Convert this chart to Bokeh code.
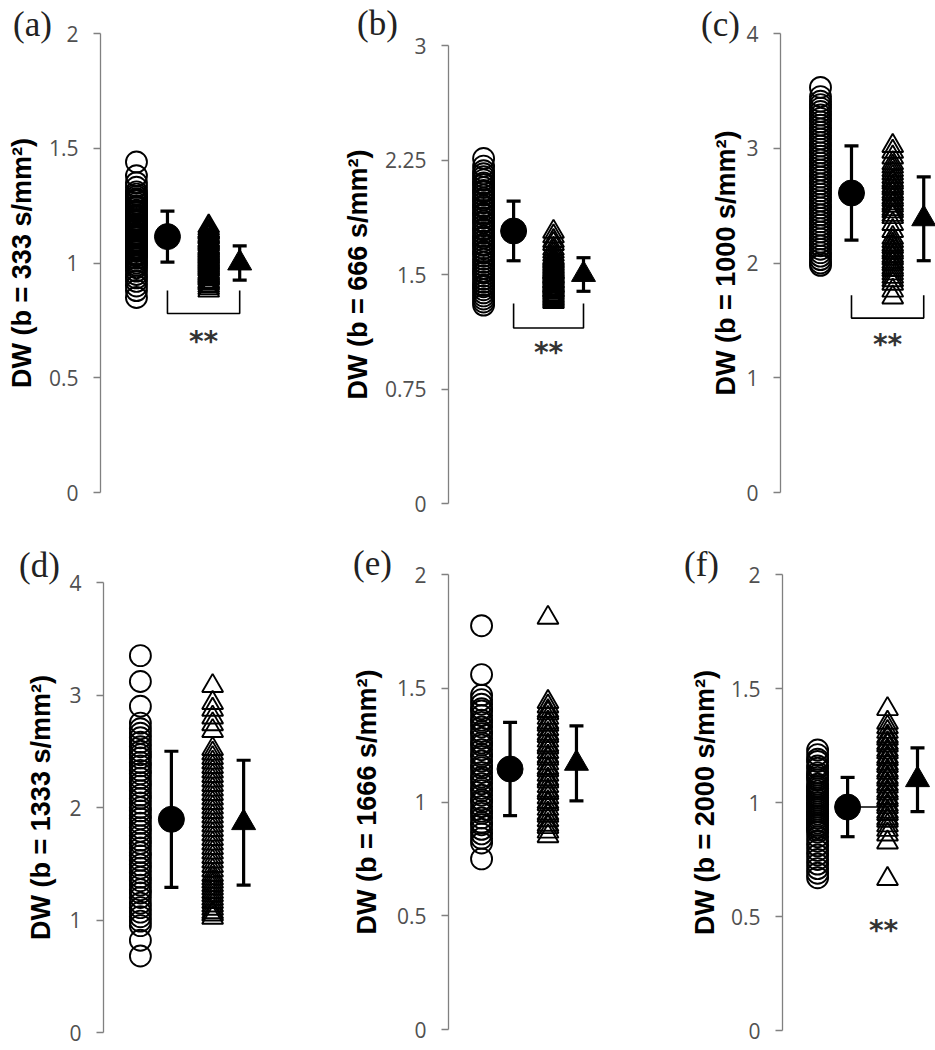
from bokeh.plotting import figure
from bokeh.models import Range1d, FixedTicker, ColumnDataSource, Whisker, TeeHead
from bokeh.layouts import column, row
from bokeh.embed import file_html
from bokeh.resources import INLINE
from bokeh.core.properties import value

# ---------------- data ----------------
panel_letters = ["(a)", "(b)", "(c)", "(d)", "(e)", "(f)"]
b_values = ["333", "666", "1000", "1333", "1666", "2000"]
y_labels = ["DW (b = %s s/mm\u00b2)" % b for b in b_values]

y_max = [2, 3, 4, 4, 2, 2]
y_ticks = [
    [0, 0.5, 1, 1.5, 2],
    [0, 0.75, 1.5, 2.25, 3],
    [0, 1, 2, 3, 4],
    [0, 1, 2, 3, 4],
    [0, 0.5, 1, 1.5, 2],
    [0, 0.5, 1, 1.5, 2],
]
y_tick_labels = [
    ["0", "0.5", "1", "1.5", "2"],
    ["0", "0.75", "1.5", "2.25", "3"],
    ["0", "1", "2", "3", "4"],
    ["0", "1", "2", "3", "4"],
    ["0", "0.5", "1", "1.5", "2"],
    ["0", "0.5", "1", "1.5", "2"],
]

# individual values: open circles (first group) and open triangles (second group)
ctrl_a = [1.44, 1.38, 1.35, 1.33, 1.31, 1.30, 1.29, 1.28, 1.275, 1.27, 1.26, 1.25, 1.245, 1.24,
          1.23, 1.225, 1.22, 1.21, 1.205, 1.20, 1.19, 1.185, 1.18, 1.17, 1.165, 1.16, 1.155,
          1.15, 1.145, 1.14, 1.13, 1.125, 1.12, 1.115, 1.11, 1.10, 1.095, 1.09, 1.085, 1.08,
          1.07, 1.065, 1.06, 1.055, 1.05, 1.04, 1.035, 1.03, 1.02, 1.01, 1.00, 0.99, 0.98,
          0.965, 0.95, 0.935, 0.92, 0.90, 0.88, 0.85]
pat_a = [1.16, 1.15, 1.14, 1.135, 1.13, 1.12, 1.115, 1.11, 1.10, 1.095, 1.09, 1.085, 1.08,
         1.07, 1.065, 1.06, 1.055, 1.05, 1.045, 1.04, 1.035, 1.03, 1.025, 1.02, 1.015, 1.01,
         1.005, 1.00, 0.995, 0.99, 0.985, 0.98, 0.975, 0.97, 0.96, 0.955, 0.95, 0.945, 0.94,
         0.935, 0.93, 0.92, 0.915, 0.91, 0.90, 0.89, 0.88]
ctrl_b = [2.26, 2.21, 2.18, 2.16, 2.14, 2.12, 2.10, 2.09, 2.07, 2.05, 2.04, 2.02, 2.00, 1.99,
          1.97, 1.95, 1.94, 1.92, 1.90, 1.89, 1.87, 1.85, 1.84, 1.82, 1.80, 1.79, 1.77, 1.75,
          1.74, 1.72, 1.70, 1.69, 1.67, 1.65, 1.64, 1.62, 1.60, 1.58, 1.56, 1.54, 1.52, 1.51,
          1.49, 1.47, 1.45, 1.43, 1.42, 1.40, 1.38, 1.36, 1.34, 1.32, 1.30]
pat_b = [1.78, 1.75, 1.72, 1.70, 1.67, 1.65, 1.63, 1.61, 1.60, 1.59, 1.58, 1.57, 1.56, 1.55,
         1.54, 1.53, 1.52, 1.515, 1.51, 1.50, 1.49, 1.485, 1.48, 1.47, 1.46, 1.455, 1.45, 1.44,
         1.43, 1.425, 1.42, 1.41, 1.40, 1.395, 1.39, 1.38, 1.37, 1.36, 1.35, 1.34, 1.33, 1.32]
ctrl_c = [3.53, 3.45, 3.41, 3.38, 3.35, 3.32, 3.29, 3.26, 3.23, 3.20, 3.17, 3.14, 3.11, 3.08,
          3.05, 3.02, 2.99, 2.96, 2.93, 2.90, 2.87, 2.84, 2.81, 2.78, 2.75, 2.72, 2.69, 2.66,
          2.63, 2.60, 2.57, 2.54, 2.51, 2.48, 2.45, 2.42, 2.39, 2.36, 2.33, 2.30, 2.27, 2.24,
          2.21, 2.18, 2.15, 2.12, 2.09, 2.06, 2.03, 2.00, 1.98]
pat_c = [3.02, 2.97, 2.92, 2.87, 2.84, 2.81, 2.78, 2.75, 2.72, 2.70, 2.67, 2.65, 2.62, 2.60,
         2.57, 2.55, 2.52, 2.50, 2.47, 2.45, 2.42, 2.40, 2.34, 2.28, 2.22, 2.19, 2.16, 2.14,
         2.11, 2.09, 2.06, 2.04, 2.01, 1.99, 1.96, 1.94, 1.91, 1.88, 1.85, 1.82, 1.76, 1.70]
ctrl_d = [3.35, 3.12, 2.90, 2.75, 2.70, 2.66, 2.62, 2.58, 2.54, 2.50, 2.47, 2.44, 2.40, 2.37,
          2.33, 2.30, 2.26, 2.22, 2.19, 2.15, 2.11, 2.08, 2.04, 2.00, 1.97, 1.93, 1.90, 1.86,
          1.82, 1.79, 1.75, 1.71, 1.68, 1.64, 1.60, 1.57, 1.53, 1.49, 1.46, 1.42, 1.38, 1.35,
          1.31, 1.27, 1.24, 1.20, 1.15, 1.11, 1.07, 1.03, 0.99, 0.95, 0.82, 0.68]
pat_d = [3.08, 2.93, 2.87, 2.80, 2.74, 2.68, 2.52, 2.48, 2.44, 2.40, 2.36, 2.32, 2.28, 2.24,
         2.20, 2.16, 2.12, 2.08, 2.04, 2.00, 1.96, 1.92, 1.88, 1.84, 1.80, 1.76, 1.72, 1.68,
         1.64, 1.60, 1.56, 1.52, 1.48, 1.44, 1.40, 1.37, 1.34, 1.31, 1.28, 1.25, 1.22, 1.19,
         1.16, 1.13, 1.10, 1.07, 1.05, 1.02]
ctrl_e = [1.775, 1.56, 1.47, 1.45, 1.43, 1.41, 1.40, 1.38, 1.36, 1.35, 1.33, 1.31, 1.30, 1.28,
          1.26, 1.25, 1.23, 1.21, 1.20, 1.18, 1.16, 1.15, 1.13, 1.11, 1.10, 1.08, 1.06, 1.05,
          1.03, 1.01, 1.00, 0.98, 0.96, 0.95, 0.93, 0.91, 0.90, 0.88, 0.86, 0.84, 0.82, 0.75]
pat_e = [1.81, 1.44, 1.42, 1.40, 1.39, 1.37, 1.35, 1.34, 1.32, 1.30, 1.29, 1.27, 1.25, 1.24,
         1.22, 1.20, 1.19, 1.17, 1.15, 1.14, 1.12, 1.10, 1.09, 1.07, 1.05, 1.04, 1.02, 1.00,
         0.99, 0.97, 0.95, 0.94, 0.92, 0.90, 0.89, 0.87, 0.85]
ctrl_f = [1.23, 1.21, 1.19, 1.18, 1.16, 1.15, 1.13, 1.12, 1.11, 1.10, 1.08, 1.07, 1.06, 1.05,
          1.04, 1.03, 1.02, 1.01, 1.00, 0.99, 0.98, 0.97, 0.96, 0.95, 0.94, 0.93, 0.92, 0.91,
          0.90, 0.89, 0.88, 0.87, 0.85, 0.83, 0.81, 0.79, 0.77, 0.75, 0.73, 0.71, 0.69, 0.67]
pat_f = [1.41, 1.35, 1.33, 1.31, 1.29, 1.28, 1.26, 1.25, 1.23, 1.22, 1.20, 1.19, 1.17, 1.16,
         1.14, 1.13, 1.11, 1.10, 1.08, 1.07, 1.05, 1.04, 1.02, 1.01, 0.99, 0.98, 0.96, 0.95,
         0.93, 0.92, 0.90, 0.88, 0.86, 0.825, 0.665]

ctrl_values = [ctrl_a, ctrl_b, ctrl_c, ctrl_d, ctrl_e, ctrl_f]
pat_values = [pat_a, pat_b, pat_c, pat_d, pat_e, pat_f]

# group means and SDs (filled markers with error bars)
ctrl_mean = [1.115, 1.785, 2.61, 1.895, 1.145, 0.98]
ctrl_sd = [0.111, 0.195, 0.41, 0.605, 0.205, 0.13]
pat_mean = [1.00, 1.50, 2.385, 1.865, 1.17, 1.10]
pat_sd = [0.075, 0.11, 0.365, 0.555, 0.165, 0.14]

# significance marks
bracket_top = [0.88, 1.31, 1.72, None, None, None]
bracket_bottom = [0.78, 1.15, 1.52, None, None, None]
star_y = [0.66, 0.99, 1.29, None, None, 0.44]
star_text = ["**", "**", "**", None, None, "**"]

# ---------------- layout (page pixels; the page has no body margin) ----------------
group_x = [1, 2, 3.33, 4.33]
ROW_Y = [0, 543]
ROW_H = [543, 505]
layout = [
    dict(row=0, fig_x=0, fig_w=318, axis_x=100, top=33, bottom=492, unit=31, x0=-0.16, lab=(32, 24), std=9),
    dict(row=0, fig_x=318, fig_w=310, axis_x=448, top=45, bottom=503, unit=30, x0=-0.17, lab=(377, 23), std=9),
    dict(row=0, fig_x=628, fig_w=307, axis_x=780, top=33, bottom=492, unit=31, x0=-0.29, lab=(720, 24), std=2),
    dict(row=1, fig_x=0, fig_w=318, axis_x=103, top=582, bottom=1032, unit=31, x0=-0.19, lab=(39, 565), std=10),
    dict(row=1, fig_x=318, fig_w=310, axis_x=448, top=574, bottom=1029, unit=28.5, x0=-0.16, lab=(372, 563), std=12),
    dict(row=1, fig_x=628, fig_w=307, axis_x=782, top=574, bottom=1030, unit=30, x0=-0.17, lab=(701, 564), std=8),
]

AXIS_GRAY = "#808080"
TICK_TEXT = "#505050"


def make_panel(i):
    L = layout[i]
    ry, rh = ROW_Y[L["row"]], ROW_H[L["row"]]
    ym = y_max[i]
    H = L["bottom"] - L["top"]

    def dx(px):
        return L["x0"] + (px - L["axis_x"]) / L["unit"]

    def dy(py):
        return (L["bottom"] - py) / H * ym

    p = figure(width=L["fig_w"], height=rh,
               x_range=Range1d(dx(L["fig_x"]), dx(L["fig_x"] + L["fig_w"])),
               y_range=Range1d(dy(ry + rh), dy(ry)),
               x_axis_location=None, toolbar_location=None, output_backend="svg",
               min_border_left=0, min_border_right=0, min_border_top=0, min_border_bottom=0)
    p.grid.visible = False
    p.outline_line_color = None
    p.background_fill_color = "white"
    p.border_fill_color = "white"

    ax = p.yaxis[0]
    ax.fixed_location = L["x0"]
    ax.bounds = (0, ym)
    ax.ticker = FixedTicker(ticks=y_ticks[i])
    ax.major_label_overrides = {t: s for t, s in zip(y_ticks[i], y_tick_labels[i])}
    ax.axis_line_color = AXIS_GRAY
    ax.axis_line_width = 1.3
    ax.major_tick_line_color = AXIS_GRAY
    ax.major_tick_line_width = 1.3
    ax.major_tick_out = 7
    ax.major_tick_in = 0
    ax.minor_tick_line_color = None
    ax.major_label_standoff = 15
    ax.major_label_text_font = "Open Sans"
    ax.major_label_text_font_size = "21px"
    ax.major_label_text_color = TICK_TEXT
    ax.axis_label = y_labels[i]
    ax.axis_label_text_font = "Liberation Sans"
    ax.axis_label_text_font_style = "bold"
    ax.axis_label_text_font_size = "27px"
    ax.axis_label_text_color = "black"
    ax.axis_label_standoff = L["std"]

    n_c, n_p = len(ctrl_values[i]), len(pat_values[i])
    # individual points (no fill, so dense columns turn black)
    p.scatter(x=[group_x[0]] * n_c, y=ctrl_values[i], marker="circle", size=21,
              fill_color=None, line_color="black", line_width=1.9)
    p.scatter(x=[group_x[2]] * n_p, y=pat_values[i], marker="triangle", size=21,
              fill_color=None, line_color="black", line_width=1.9)

    # connecting line in panel (f)
    if i == 5:
        p.line(x=[group_x[1], group_x[2]], y=[ctrl_mean[i], ctrl_mean[i]],
               line_color="black", line_width=1.6)

    # error bars (mean +/- SD)
    src = ColumnDataSource(dict(
        x=[group_x[1], group_x[3]],
        upper=[ctrl_mean[i] + ctrl_sd[i], pat_mean[i] + pat_sd[i]],
        lower=[ctrl_mean[i] - ctrl_sd[i], pat_mean[i] - pat_sd[i]],
    ))
    p.add_layout(Whisker(base="x", upper="upper", lower="lower", source=src,
                         line_color="black", line_width=3.2, level="glyph",
                         upper_head=TeeHead(size=14, line_width=3.2, line_color="black"),
                         lower_head=TeeHead(size=14, line_width=3.2, line_color="black")))
    p.scatter(x=[group_x[1]], y=[ctrl_mean[i]], marker="circle", size=26,
              fill_color="black", line_color="black")
    p.scatter(x=[group_x[3]], y=[pat_mean[i]], marker="triangle", size=24,
              fill_color="black", line_color="black")

    # significance bracket and stars
    if bracket_top[i] is not None:
        p.line(x=[group_x[1], group_x[1], group_x[3], group_x[3]],
               y=[bracket_top[i], bracket_bottom[i], bracket_bottom[i], bracket_top[i]],
               line_color="black", line_width=1.6)
    if star_text[i] is not None:
        sx = (group_x[1] + group_x[3]) / 2 if bracket_top[i] is not None else 3.2
        p.text(x=[sx], y=[star_y[i]], text=[star_text[i]], text_align="center",
               text_baseline="middle", text_font=value("DejaVu Sans"),
               text_font_style="bold", text_font_size="28px", text_color="#333333")

    # panel letter
    lx, ly = L["lab"]
    p.text(x=[dx(lx)], y=[dy(ly)], text=[panel_letters[i]], text_align="center",
           text_baseline="middle", text_font=value("Liberation Serif"),
           text_font_size="35px", text_color="#222222")
    return p


panels = [make_panel(i) for i in range(6)]
lay = column(row(panels[0], panels[1], panels[2]), row(panels[3], panels[4], panels[5]))
open("out.html", "w").write(file_html(lay, INLINE))
